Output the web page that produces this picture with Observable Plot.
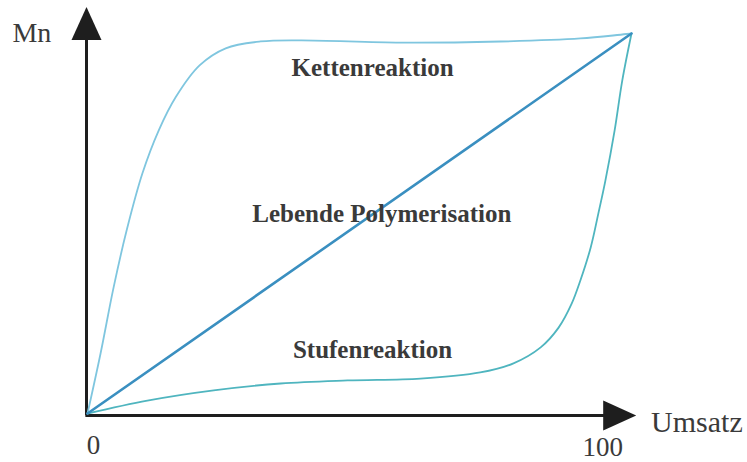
<!DOCTYPE html>
<html>
<head>
<meta charset="utf-8">
<script src="https://cdn.jsdelivr.net/npm/d3@7"></script>
<script src="https://cdn.jsdelivr.net/npm/@observablehq/plot@0.6"></script>
<style>
  html, body { margin: 0; padding: 0; background: #fff; }
</style>
</head>
<body>
<div id="chart"></div>
<script>
// Kettenreaktion (chain reaction) curve: [Umsatz %, Mn %]
const kettenX = [0, 2.4, 4.8, 7.2, 10.1, 13.1, 16.2, 20.6, 25.4, 31.8, 39.2, 57.5, 75.9, 90.6, 100];
const kettenY = [0, 15.8, 33.2, 48.2, 63.2, 74.5, 83.2, 91.6, 96.1, 97.9, 98.2, 97.6, 97.9, 98.7, 100];

// Lebende Polymerisation (living polymerisation): straight line
const lebendX = [0, 100];
const lebendY = [0, 100];

// Stufenreaktion (step reaction) curve
const stufenX = [0, 11.0, 23.2, 35.5, 47.8, 61.2, 72.2, 78.3, 83.3, 86.6, 89.0, 90.6, 92.5, 93.9, 95.2, 96.9, 98.3, 100];
const stufenY = [0, 3.4, 6.1, 7.9, 8.7, 9.2, 10.8, 13.2, 17.4, 22.6, 28.9, 35.0, 43.7, 52.6, 61.3, 74.5, 87.6, 100];

// Labels
const curveLabels = ["Kettenreaktion", "Lebende Polymerisation", "Stufenreaktion"];
const curveLabelX = [52.4, 54.1, 52.4];
const curveLabelY = [90.8, 52.4, 16.6];

const tickLabels = ["0", "100"];
const tickX = [1.1, 94.7];
const tickY = [-8.4, -8.8];

const xAxisLabel = "Umsatz";
const yAxisLabel = "Mn";

const toPoints = (xs, ys) => xs.map((x, i) => ({x, y: ys[i]}));

// filled arrowhead symbol (points up, base at origin)
const arrowHead = {
  draw(context) {
    context.moveTo(0, -33);
    context.lineTo(15, 0);
    context.lineTo(-15, 0);
    context.closePath();
  }
};

const textColor = "#3a3a3a";
const axisColor = "#1e1e1e";

const chart = Plot.plot({
  width: 747,
  height: 462,
  marginLeft: 87,
  marginRight: 116,
  marginTop: 33,
  marginBottom: 49,
  x: {domain: [0, 100], axis: null},
  y: {domain: [0, 100], axis: null},
  style: {fontFamily: "'Liberation Serif', 'DejaVu Serif', serif", background: "#fff"},
  marks: [
    // axes
    Plot.ruleX([0], {y1: -0.6, y2: 99, stroke: axisColor, strokeWidth: 3, dx: -1}),
    Plot.ruleY([0], {x1: -0.3, x2: 96, stroke: axisColor, strokeWidth: 3, dy: 2}),
    Plot.dot([{x: 0, y: 98.3}], {x: "x", y: "y", symbol: arrowHead, fill: axisColor, stroke: "none", dx: -1}),
    Plot.dot([{x: 94.8, y: 0}], {x: "x", y: "y", symbol: arrowHead, fill: axisColor, stroke: "none", rotate: 90, dy: 2}),
    // curves
    Plot.line(toPoints(kettenX, kettenY), {x: "x", y: "y", stroke: "#7fc6df", strokeWidth: 1.8, curve: "catmull-rom"}),
    Plot.line(toPoints(stufenX, stufenY), {x: "x", y: "y", stroke: "#4fb5bf", strokeWidth: 1.8, curve: "catmull-rom"}),
    Plot.line(toPoints(lebendX, lebendY), {x: "x", y: "y", stroke: "#3a8fc0", strokeWidth: 2.6}),
    // curve labels
    Plot.text(curveLabels.map((t, i) => ({t, x: curveLabelX[i], y: curveLabelY[i]})), {
      x: "x", y: "y", text: "t", fontSize: 25, fontWeight: "bold", fill: textColor, textAnchor: "middle", lineAnchor: "middle"
    }),
    // tick labels
    Plot.text(tickLabels.map((t, i) => ({t, x: tickX[i], y: tickY[i]})), {
      x: "x", y: "y", text: "t", fontSize: 27, fill: textColor, textAnchor: "middle", lineAnchor: "middle"
    }),
    // axis labels
    Plot.text([{t: xAxisLabel, x: 103.6, y: -2.4}], {
      x: "x", y: "y", text: "t", fontSize: 30, fill: textColor, textAnchor: "start", lineAnchor: "middle"
    }),
    Plot.text([{t: yAxisLabel, x: -13.8, y: 100}], {
      x: "x", y: "y", text: "t", fontSize: 28, fill: textColor, textAnchor: "start", lineAnchor: "middle"
    })
  ]
});

document.getElementById("chart").appendChild(chart);
</script>
</body>
</html>
